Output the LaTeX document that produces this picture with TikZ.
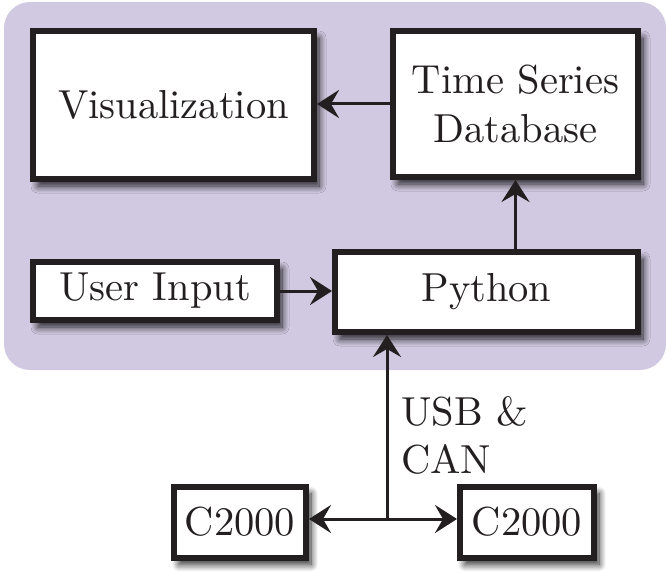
\documentclass[tikz,border=0pt]{standalone}
\usepackage{fontspec}
\setmainfont{lmroman10-regular.otf}
\usetikzlibrary{arrows.meta,shadows.blur,calc}
\definecolor{bgpurple}{HTML}{D1C9E1}
\definecolor{ink}{HTML}{231F20}
\begin{document}
\begin{tikzpicture}[x=1pt,y=-1pt,
  box/.style={draw=ink, line width=6pt, fill=white, inner sep=0pt, align=center,
    text=ink, font=\fontsize{40.5}{49}\selectfont,
    blur shadow={shadow xshift=5pt, shadow yshift=-7pt, shadow blur radius=7pt,
      shadow blur steps=12, shadow opacity=85}},
  conn/.style={draw=ink, line width=3pt},
  tip/.style={-{Stealth[length=22pt,width=28pt,inset=8pt]}},
  lbl/.style={text=ink, inner sep=0pt, align=left, font=\fontsize{40.5}{48}\selectfont}]
\useasboundingbox (0,0) rectangle (666,572);
\fill[bgpurple, rounded corners=26pt] (4,2) rectangle (666,370);

\node[box, minimum width=281pt, minimum height=148pt] (vis) at (173.5,105) {Visualization};
\node[box, minimum width=245pt, minimum height=146pt] (tsdb) at (515.5,104) {Time Series\\Database};
\node[box, minimum width=244pt, minimum height=58pt] (ui) at (155,291) {User Input};
\node[box, minimum width=303pt, minimum height=80pt] (py) at (486.5,292) {Python};
\node[box, minimum width=132pt, minimum height=71pt] (c1) at (240,522) {C2000};
\node[box, minimum width=134pt, minimum height=71pt] (c2) at (527,522) {C2000};

\coordinate (j) at (387,519);

\draw[conn, tip] (tsdb.west) -- (tsdb.west -| vis.east);
\draw[conn, tip] (py.north -| tsdb) -- (tsdb.south);
\draw[conn, tip] (ui.east) -- (ui.east -| py.west);
\draw[conn, tip] (j) -- (j |- py.south);
\draw[conn, tip] (j) -- (j -| c1.east);
\draw[conn, tip] (j) -- (j -| c2.west);

\node[lbl, anchor=north west] (usb) at (401,396) {USB \&\\CAN};
\end{tikzpicture}
\end{document}
